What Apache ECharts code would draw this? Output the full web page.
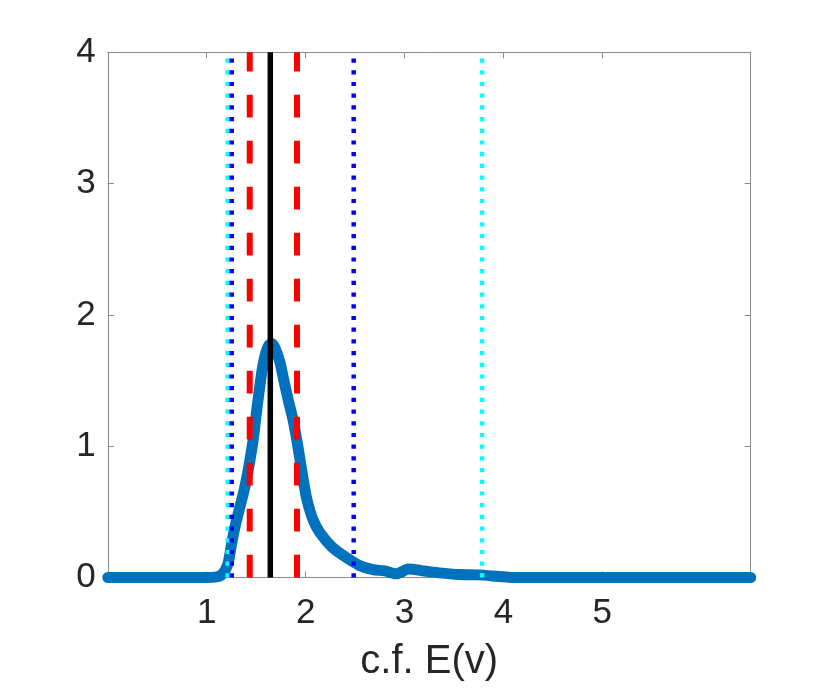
<!DOCTYPE html>
<html><head><meta charset="utf-8">
<script src="https://cdn.jsdelivr.net/npm/echarts@6/dist/echarts.min.js"></script>
<style>html,body{margin:0;padding:0;background:#fff}#c{width:830px;height:692px}</style>
</head><body><div id="c"></div>
<script>
const curveX = [0, 0.5, 1.0, 1.10, 1.15, 1.19, 1.22, 1.25, 1.29, 1.34, 1.38, 1.42, 1.47, 1.51, 1.56, 1.60, 1.63, 1.66, 1.70, 1.74, 1.78, 1.825, 1.873, 1.91, 1.943, 1.977, 2.014, 2.075, 2.146, 2.264, 2.40, 2.55, 2.68, 2.80, 2.92, 3.04, 3.20, 3.35, 3.55, 3.75, 3.95, 4.10, 4.5, 5.0, 5.5, 6.0, 6.5];
const curveY = [0, 0, 0, 0.005, 0.02, 0.06, 0.12, 0.25, 0.40, 0.55, 0.67, 0.82, 1.05, 1.30, 1.58, 1.72, 1.77, 1.78, 1.73, 1.64, 1.50, 1.35, 1.20, 1.05, 0.90, 0.74, 0.59, 0.44, 0.34, 0.235, 0.158, 0.09, 0.06, 0.05, 0.028, 0.065, 0.05, 0.035, 0.022, 0.02, 0.008, 0, 0, 0, 0, 0, 0];
const xTicks = [1, 2, 3, 4, 5];
const yTicks = [0, 1, 2, 3, 4];
const cyanX = [1.212, 3.784];
const blueX = [1.253, 2.486];
const redX = [1.435, 1.913];
const blackX = [1.643];
const xLabel = 'c.f. E(v)';

const X_MIN = 0, X_MAX = 6.5;
const yLo = yTicks[0], yHi = yTicks[yTicks.length - 1];
const font = '"Liberation Sans", Arial, Helvetica, sans-serif';
const axisColor = '#8a8a8a';
const textColor = '#262626';

function vline(x, color, width, dash) {
  return {
    type: 'line', data: [[x, yLo], [x, yHi]], symbol: 'none', silent: true,
    clip: false, z: 3,
    lineStyle: { color: color, width: width, type: dash, cap: 'butt' }
  };
}

const series = [{
  type: 'line',
  data: curveX.map((x, i) => [x, curveY[i]]),
  symbol: 'none', smooth: 0.25, clip: false, z: 2,
  lineStyle: { color: '#0072BD', width: 11, cap: 'round', join: 'round' }
}];
cyanX.forEach(x => series.push(vline(x, '#00FFFF', 4.5, [4.2, 7.5])));
blueX.forEach(x => series.push(vline(x, '#0000FF', 4.5, [4.2, 7.5])));
redX.forEach(x => series.push(vline(x, '#FF0000', 6, [22.7, 23.3])));
blackX.forEach(x => series.push(vline(x, '#000000', 5.5, 'solid')));

function xAx(pos, labels) {
  return {
    type: 'value', position: pos, min: X_MIN, max: X_MAX,
    name: labels ? xLabel : '', nameLocation: 'middle', nameGap: 64,
    nameTextStyle: { fontFamily: font, fontSize: 40, color: textColor },
    axisLine: { show: true, onZero: false, lineStyle: { color: axisColor, width: 1 } },
    axisTick: { show: true, inside: true, length: 6, customValues: xTicks, lineStyle: { color: axisColor } },
    axisLabel: { show: labels, customValues: xTicks, margin: 18, fontFamily: font, fontSize: 35, color: textColor },
    splitLine: { show: false }
  };
}
function yAx(pos, labels) {
  return {
    type: 'value', position: pos, min: yLo, max: yHi, interval: 1,
    axisLine: { show: true, onZero: false, lineStyle: { color: axisColor, width: 1 } },
    axisTick: { show: true, inside: true, length: 6, lineStyle: { color: axisColor } },
    axisLabel: { show: labels, margin: 12, fontFamily: font, fontSize: 35, color: textColor },
    splitLine: { show: false }
  };
}

const chart = echarts.init(document.getElementById('c'));
chart.setOption({
  animation: false,
  backgroundColor: '#fff',
  grid: { left: 107.8, right: 79.3, top: 52.3, bottom: 114.5, containLabel: false },
  xAxis: [xAx('bottom', true), xAx('top', false)],
  yAxis: [yAx('left', true), yAx('right', false)],
  series: series
});
</script></body></html>
